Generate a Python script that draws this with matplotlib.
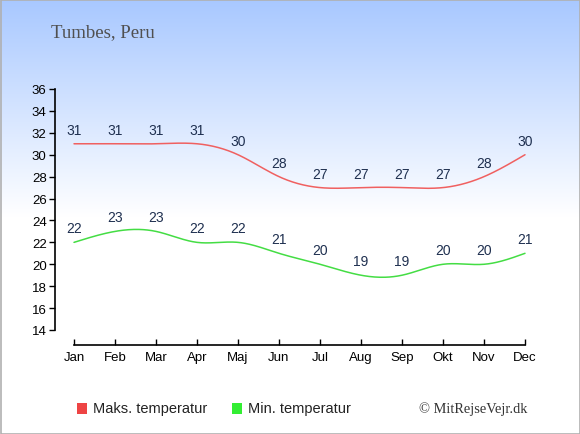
import numpy as np
import matplotlib
matplotlib.use("Agg")
import matplotlib.pyplot as plt
from matplotlib.patches import Rectangle

months = ["Jan", "Feb", "Mar", "Apr", "Maj", "Jun", "Jul", "Aug", "Sep", "Okt", "Nov", "Dec"]
max_temp = [31, 31, 31, 31, 30, 28, 27, 27, 27, 27, 28, 30]
min_temp = [22, 23, 23, 22, 22, 21, 20, 19, 19, 20, 20, 21]
yticks = list(range(14, 37, 2))
title = "Tumbes, Peru"
legend_labels = ["Maks. temperatur", "Min. temperatur"]
credit = "\u00a9 MitRejseVejr.dk"

W, H = 580, 435
fig = plt.figure(figsize=(W / 100, H / 100), dpi=100)

# background gradient
bg = fig.add_axes([0, 0, 1, 1])
bg.set_xlim(0, W)
bg.set_ylim(H, 0)
bg.axis("off")
ys = np.linspace(0, 1, 870)
top = np.array([168, 200, 255]) / 255.0
t = np.clip(ys / 0.50, 0, 1)[:, None]
grad = top * (1 - t) + np.ones(3) * t
bg.imshow(grad[:, None, :].repeat(2, axis=1), extent=[0, W, H, 0], aspect="auto",
          zorder=0, interpolation="bilinear")
bg.add_patch(Rectangle((0.5, 0.5), W - 1, H - 1, fill=False, edgecolor="#b0b0b0", lw=1.2, zorder=2))

bg.text(51, 33, title, fontsize=13.5, family="Liberation Serif", color="#505050", va="center", ha="left")

# legend
bg.add_patch(Rectangle((77, 404), 10, 11, facecolor="#ee4444", edgecolor="none"))
bg.text(93, 409.5, legend_labels[0], fontsize=10.5, family="Liberation Sans", color="#222222", va="center")
bg.add_patch(Rectangle((232, 404), 10, 11, facecolor="#33ee33", edgecolor="none"))
bg.text(248, 409.5, legend_labels[1], fontsize=10.5, family="Liberation Sans", color="#222222", va="center")
bg.text(527, 409, credit, fontsize=10.4, family="Liberation Serif", color="#333333", va="center", ha="right")

# main axes (pixel layout)
x0px, x1px = 55, 545
ytop, ybot = 90, 331
ax = fig.add_axes([x0px / W, (H - ybot) / H, (x1px - x0px) / W, (ybot - ytop) / H])
ax.patch.set_alpha(0)
step = 41
ax.set_xlim((x0px - 74) / step, (x1px - 74) / step)
ax.set_ylim(14, 36)


def natural_spline(xs, ys, n=40):
    xs = np.asarray(xs, float)
    ys = np.asarray(ys, float)
    m = len(xs)
    h = np.diff(xs)
    A = np.zeros((m, m))
    b = np.zeros(m)
    A[0, 0] = 1
    A[-1, -1] = 1
    for i in range(1, m - 1):
        A[i, i - 1] = h[i - 1]
        A[i, i] = 2 * (h[i - 1] + h[i])
        A[i, i + 1] = h[i]
        b[i] = 6 * ((ys[i + 1] - ys[i]) / h[i] - (ys[i] - ys[i - 1]) / h[i - 1])
    M = np.linalg.solve(A, b)
    outx, outy = [], []
    for i in range(m - 1):
        tx = np.linspace(xs[i], xs[i + 1], n)
        a = xs[i + 1] - tx
        c = tx - xs[i]
        yv = (M[i] * a ** 3 + M[i + 1] * c ** 3) / (6 * h[i]) \
            + (ys[i] / h[i] - M[i] * h[i] / 6) * a + (ys[i + 1] / h[i] - M[i + 1] * h[i] / 6) * c
        outx.extend(tx)
        outy.extend(yv)
    return np.array(outx), np.array(outy)


xi = np.arange(len(months))
for vals, col in [(max_temp, "#f06060"), (min_temp, "#44dd44")]:
    sx, sy = natural_spline(xi, vals)
    ax.plot(sx, sy, color=col, lw=1.1, solid_capstyle="round")
    for x, v in zip(xi, vals):
        ax.annotate(str(v), (x, v), xytext=(0, 14), textcoords="offset pixels",
                    ha="center", va="center", fontsize=10, family="Liberation Sans",
                    color="#1f3050")

for s in ["top", "right"]:
    ax.spines[s].set_visible(False)
ax.spines["left"].set_color("black")
ax.spines["bottom"].set_color("black")
ax.spines["left"].set_linewidth(1.2)
ax.spines["bottom"].set_linewidth(1.2)
ax.spines["bottom"].set_position(("outward", 11))
ax.spines["bottom"].set_bounds(0, 11)
ax.spines["left"].set_bounds(14, 36)
ax.set_yticks(yticks)
ax.set_yticklabels([str(v) for v in yticks], family="Liberation Sans", fontsize=9.5)
ax.set_xticks(xi)
ax.set_xticklabels(months, family="Liberation Sans", fontsize=9.5)
ax.tick_params(axis="y", direction="out", length=4, width=1, pad=2, colors="black")
ax.tick_params(axis="x", direction="in", length=4, width=1, pad=4, colors="black")

fig.savefig("out.png", dpi=100)
